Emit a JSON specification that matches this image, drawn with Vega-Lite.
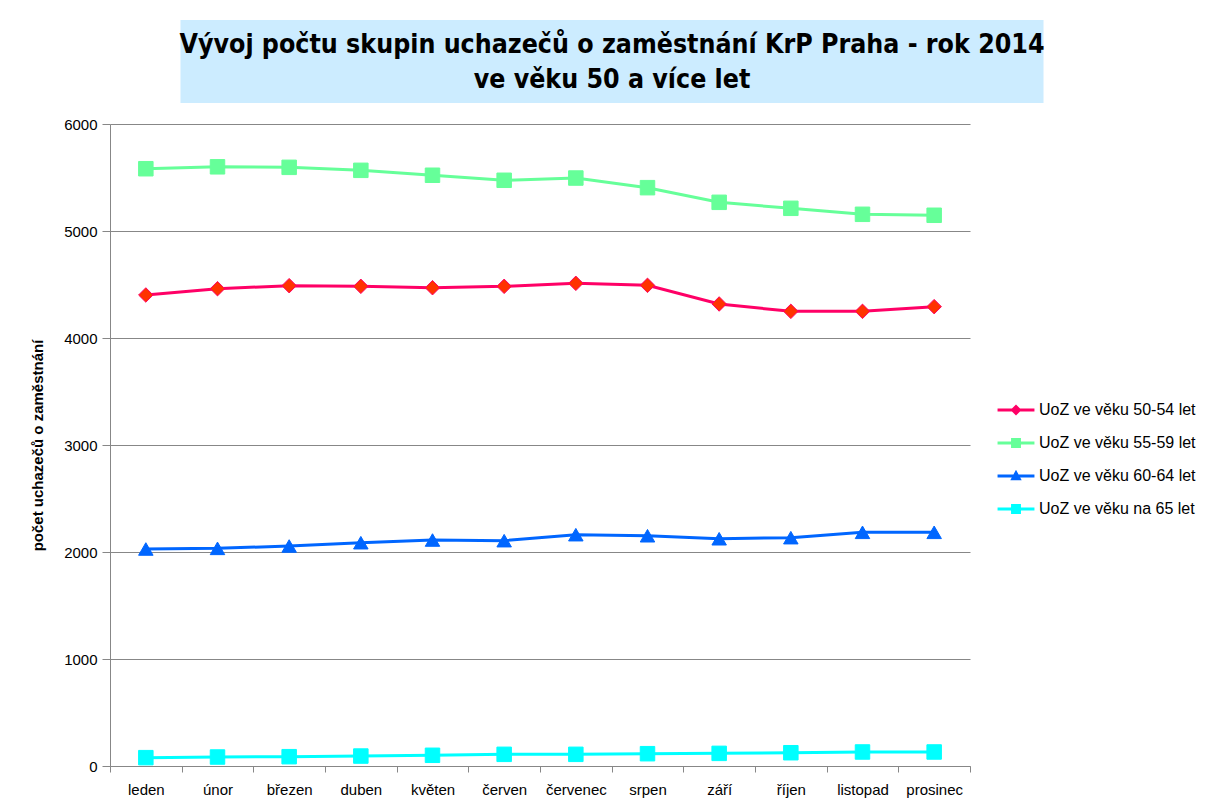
{
  "$schema": "https://vega.github.io/schema/vega-lite/v6.json",
  "background": "white",
  "padding": {"left": 30, "top": 20, "right": 5, "bottom": 5},
  "spacing": 14,
  "center": true,
  "config": {"font": "Liberation Sans"},
  "vconcat": [
    {
      "width": 863,
      "height": 83,
      "view": {"fill": "#CCECFF", "stroke": null},
      "data": {"values": [{"title": "Vývoj počtu skupin uchazečů o zaměstnání KrP Praha - rok 2014\nve věku 50 a více let"}]},
      "mark": {"type": "text", "lineBreak": "\n", "font": "Liberation Sans Narrow, DejaVu Sans Condensed, sans-serif", "fontWeight": "bold", "fontSize": 26.5, "lineHeight": 35, "align": "center", "baseline": "middle", "dy": -17, "color": "black"},
      "encoding": {
        "text": {"field": "title"},
        "y": {"field": "title", "type": "nominal", "axis": {"orient": "right", "labels": false, "ticks": false, "domain": false, "grid": false, "title": " ", "titleFontSize": 10, "titlePadding": 72}}
      }
    },
    {
      "width": 860,
      "height": 642,
      "view": {"stroke": null},
      "data": {"values": [
        {"month": "leden", "series": "UoZ ve věku 50-54 let", "value": 4402},
        {"month": "únor", "series": "UoZ ve věku 50-54 let", "value": 4461},
        {"month": "březen", "series": "UoZ ve věku 50-54 let", "value": 4489},
        {"month": "duben", "series": "UoZ ve věku 50-54 let", "value": 4483},
        {"month": "květen", "series": "UoZ ve věku 50-54 let", "value": 4470},
        {"month": "červen", "series": "UoZ ve věku 50-54 let", "value": 4483},
        {"month": "červenec", "series": "UoZ ve věku 50-54 let", "value": 4511},
        {"month": "srpen", "series": "UoZ ve věku 50-54 let", "value": 4492},
        {"month": "září", "series": "UoZ ve věku 50-54 let", "value": 4318},
        {"month": "říjen", "series": "UoZ ve věku 50-54 let", "value": 4249},
        {"month": "listopad", "series": "UoZ ve věku 50-54 let", "value": 4249},
        {"month": "prosinec", "series": "UoZ ve věku 50-54 let", "value": 4293},
        {"month": "leden", "series": "UoZ ve věku 55-59 let", "value": 5582},
        {"month": "únor", "series": "UoZ ve věku 55-59 let", "value": 5600},
        {"month": "březen", "series": "UoZ ve věku 55-59 let", "value": 5595},
        {"month": "duben", "series": "UoZ ve věku 55-59 let", "value": 5567},
        {"month": "květen", "series": "UoZ ve věku 55-59 let", "value": 5521},
        {"month": "červen", "series": "UoZ ve věku 55-59 let", "value": 5474},
        {"month": "červenec", "series": "UoZ ve věku 55-59 let", "value": 5495},
        {"month": "srpen", "series": "UoZ ve věku 55-59 let", "value": 5405},
        {"month": "září", "series": "UoZ ve věku 55-59 let", "value": 5268},
        {"month": "říjen", "series": "UoZ ve věku 55-59 let", "value": 5212},
        {"month": "listopad", "series": "UoZ ve věku 55-59 let", "value": 5156},
        {"month": "prosinec", "series": "UoZ ve věku 55-59 let", "value": 5147},
        {"month": "leden", "series": "UoZ ve věku 60-64 let", "value": 2028},
        {"month": "únor", "series": "UoZ ve věku 60-64 let", "value": 2034},
        {"month": "březen", "series": "UoZ ve věku 60-64 let", "value": 2056},
        {"month": "duben", "series": "UoZ ve věku 60-64 let", "value": 2087},
        {"month": "květen", "series": "UoZ ve věku 60-64 let", "value": 2112},
        {"month": "červen", "series": "UoZ ve věku 60-64 let", "value": 2106},
        {"month": "červenec", "series": "UoZ ve věku 60-64 let", "value": 2162},
        {"month": "srpen", "series": "UoZ ve věku 60-64 let", "value": 2152},
        {"month": "září", "series": "UoZ ve věku 60-64 let", "value": 2124},
        {"month": "říjen", "series": "UoZ ve věku 60-64 let", "value": 2134},
        {"month": "listopad", "series": "UoZ ve věku 60-64 let", "value": 2184},
        {"month": "prosinec", "series": "UoZ ve věku 60-64 let", "value": 2184},
        {"month": "leden", "series": "UoZ ve věku na 65 let", "value": 78},
        {"month": "únor", "series": "UoZ ve věku na 65 let", "value": 84},
        {"month": "březen", "series": "UoZ ve věku na 65 let", "value": 87},
        {"month": "duben", "series": "UoZ ve věku na 65 let", "value": 93},
        {"month": "květen", "series": "UoZ ve věku na 65 let", "value": 100},
        {"month": "červen", "series": "UoZ ve věku na 65 let", "value": 109},
        {"month": "červenec", "series": "UoZ ve věku na 65 let", "value": 109},
        {"month": "srpen", "series": "UoZ ve věku na 65 let", "value": 115},
        {"month": "září", "series": "UoZ ve věku na 65 let", "value": 118},
        {"month": "říjen", "series": "UoZ ve věku na 65 let", "value": 124},
        {"month": "listopad", "series": "UoZ ve věku na 65 let", "value": 131},
        {"month": "prosinec", "series": "UoZ ve věku na 65 let", "value": 131}
      ]},
      "encoding": {
        "x": {
          "field": "month", "type": "ordinal",
          "sort": ["leden", "únor", "březen", "duben", "květen", "červen", "červenec", "srpen", "září", "říjen", "listopad", "prosinec"],
          "scale": {"type": "band", "paddingInner": 0, "paddingOuter": 0},
          "bandPosition": 0.5,
          "axis": {"title": null, "labelAngle": 0, "tickBand": "extent", "labelFontSize": 15, "labelColor": "black", "domainColor": "#878787", "tickColor": "#878787", "tickSize": 6, "labelPadding": 10, "grid": false}
        },
        "y": {
          "field": "value", "type": "quantitative",
          "scale": {"domain": [0, 6000], "nice": false},
          "axis": {"values": [0, 1000, 2000, 3000, 4000, 5000, 6000], "format": "d", "title": "počet uchazečů o zaměstnání", "titleFontSize": 15, "titleFontWeight": "bold", "titleColor": "black", "titlePadding": 18, "labelFontSize": 15, "labelColor": "black", "gridColor": "#878787", "domainColor": "#878787", "tickColor": "#878787", "tickSize": 8, "labelPadding": 5}
        }
      },
      "resolve": {"scale": {"color": "independent", "shape": "independent"}, "legend": {"color": "independent", "shape": "independent"}},
      "layer": [
        {
          "mark": {"type": "line", "strokeWidth": 3},
          "encoding": {
            "color": {
              "field": "series", "type": "nominal",
              "scale": {"domain": ["UoZ ve věku 50-54 let", "UoZ ve věku 55-59 let", "UoZ ve věku 60-64 let", "UoZ ve věku na 65 let"], "range": ["#FF0066", "#66FF99", "#0066FF", "#00FFFF"]},
              "legend": null
            }
          }
        },
        {
          "mark": {"type": "point", "filled": true, "opacity": 1, "size": 210, "strokeWidth": 1},
          "encoding": {
            "fill": {"field": "series", "type": "nominal", "scale": {"domain": ["UoZ ve věku 50-54 let", "UoZ ve věku 55-59 let", "UoZ ve věku 60-64 let", "UoZ ve věku na 65 let"], "range": ["#FF3300", "#66FF99", "#0066FF", "#00FFFF"]}, "legend": null},
            "stroke": {"field": "series", "type": "nominal", "scale": {"domain": ["UoZ ve věku 50-54 let", "UoZ ve věku 55-59 let", "UoZ ve věku 60-64 let", "UoZ ve věku na 65 let"], "range": ["#FF0066", "#66FF99", "#0066FF", "#00FFFF"]}, "legend": null},
            "shape": {"field": "series", "type": "nominal", "scale": {"domain": ["UoZ ve věku 50-54 let", "UoZ ve věku 55-59 let", "UoZ ve věku 60-64 let", "UoZ ve věku na 65 let"], "range": ["diamond", "square", "triangle-up", "square"]}, "legend": null}
          }
        },
        {
          "mark": {"type": "point", "filled": true, "opacity": 0},
          "encoding": {
            "color": {
              "field": "series", "type": "nominal",
              "scale": {"domain": ["UoZ ve věku 50-54 let", "UoZ ve věku 55-59 let", "UoZ ve věku 60-64 let", "UoZ ve věku na 65 let"], "range": ["#FF0066", "#66FF99", "#0066FF", "#00FFFF"]},
              "legend": {"title": " ", "titleFontSize": 10, "titlePadding": 261, "orient": "right", "offset": 31, "labelFontSize": 16, "labelColor": "black", "symbolSize": 900, "rowPadding": 10, "labelOffset": 8, "symbolOpacity": 1, "symbolStrokeWidth": 0}
            },
            "shape": {
              "field": "series", "type": "nominal",
              "scale": {"domain": ["UoZ ve věku 50-54 let", "UoZ ve věku 55-59 let", "UoZ ve věku 60-64 let", "UoZ ve věku na 65 let"], "range": ["M-1.23,-0.1H1.23V0.1H-1.23Z M0,-0.37L0.37,0L0,0.37L-0.37,0Z", "M-1.23,-0.1H1.23V0.1H-1.23Z M-0.33,-0.33H0.33V0.33H-0.33Z", "M-1.23,-0.1H1.23V0.1H-1.23Z M0,-0.42L0.38,0.28H-0.38Z", "M-1.23,-0.1H1.23V0.1H-1.23Z M-0.33,-0.33H0.33V0.33H-0.33Z"]},
              "legend": {"title": " ", "titleFontSize": 10, "titlePadding": 261, "orient": "right", "offset": 31, "labelFontSize": 16, "labelColor": "black", "symbolSize": 900, "rowPadding": 10, "labelOffset": 8, "symbolOpacity": 1, "symbolStrokeWidth": 0}
            }
          }
        }
      ]
    }
  ]
}
